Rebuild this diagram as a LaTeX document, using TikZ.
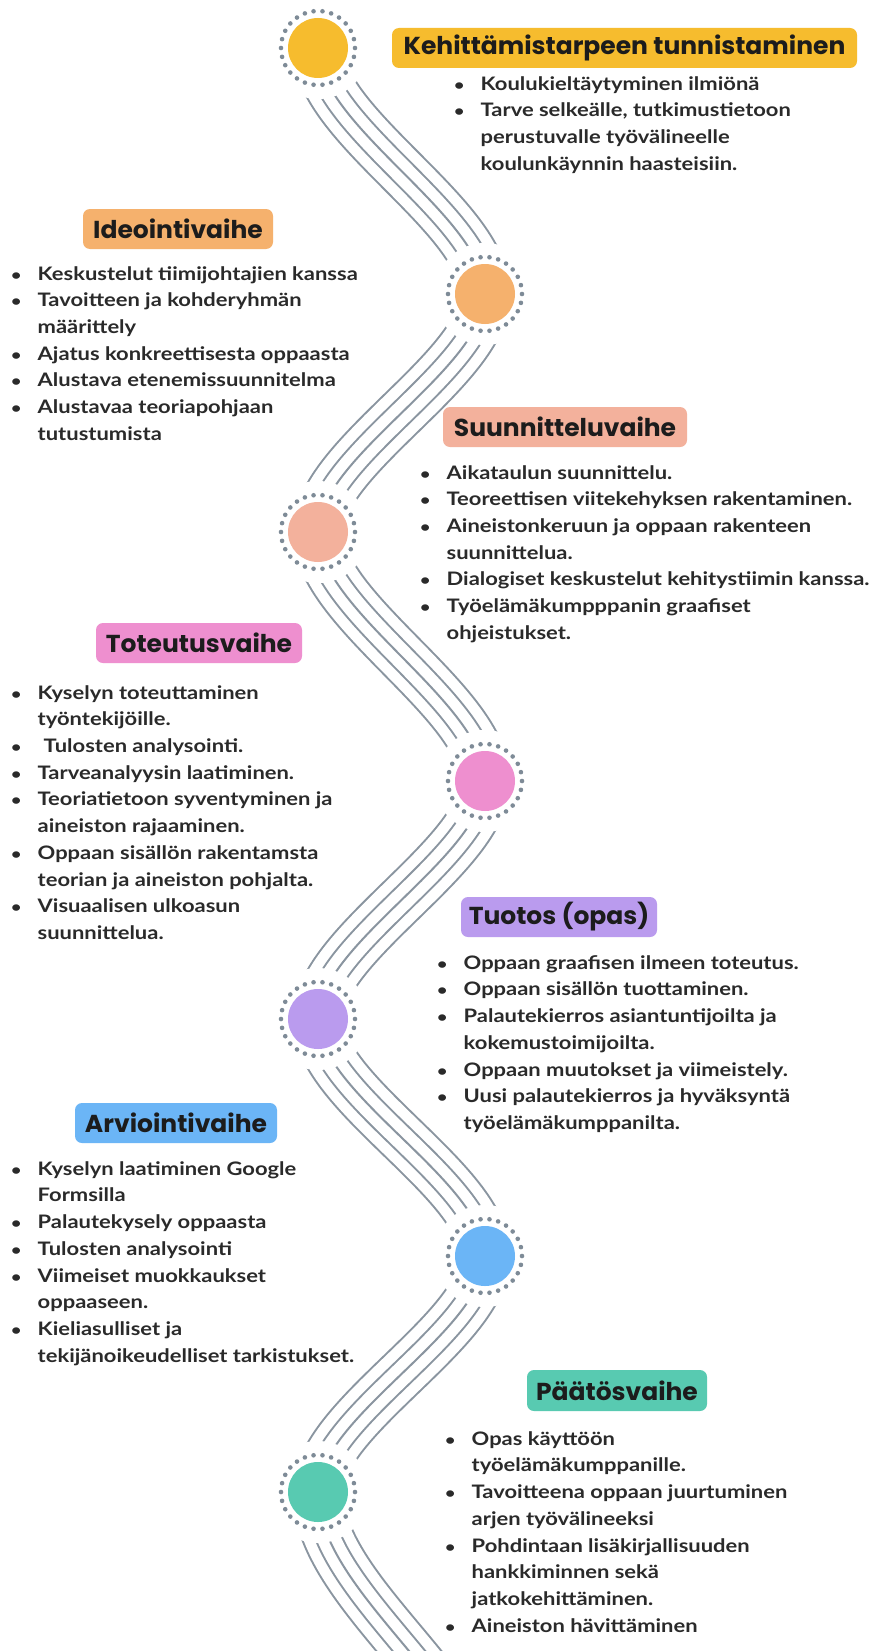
\documentclass[tikz,border=0pt]{standalone}
\usepackage{fontspec}
\setmainfont{Lato}[FakeStretch=1.18]
\newfontfamily\ttlfont{Poppins}[FakeStretch=1.02]
\usepackage{array}
\definecolor{cY}{HTML}{F6BC2E}
\definecolor{cO}{HTML}{F5B16D}
\definecolor{cS}{HTML}{F3B19C}
\definecolor{cP}{HTML}{EE8FCF}
\definecolor{cV}{HTML}{BA9BEE}
\definecolor{cB}{HTML}{6BB5F6}
\definecolor{cT}{HTML}{58CAB1}
\definecolor{strandc}{HTML}{8A95A0}
\definecolor{dotc}{HTML}{7E8B97}
\definecolor{ttlc}{HTML}{1C1C1C}
\definecolor{txtc}{HTML}{2A2A2A}
\newcommand{\bl}{\makebox[0pt]{\fontsize{15}{15}\selectfont\textbullet}}
\newenvironment{blist}{\fontsize{18.6}{26.7}\selectfont\bfseries\begin{tabular}{@{}l@{\hspace{21.5pt}}l@{}}}{\end{tabular}}
\tikzset{
  wave/.style={draw=strandc, line width=2pt, line join=round,
    preaction={draw=white, line width=23pt, line join=round,
      preaction={draw=strandc, line width=27pt, line join=round,
        preaction={draw=white, line width=48pt, line join=round,
          preaction={draw=strandc, line width=52pt, line join=round}}}}},
  ttlbox/.style={fill=#1, rounded corners=7pt, inner sep=0pt, text=ttlc,
    font=\ttlfont\fontsize{24.5}{28}\selectfont\bfseries},
  stage/.style={circle, fill=#1, minimum size=60pt, inner sep=0pt},
  txtblock/.style={anchor=north west, inner sep=0pt, text=txtc}
}
\begin{document}
\begin{tikzpicture}[x=1pt,y=-1pt]
\useasboundingbox (0,0) rectangle (872,1651);
\fill[white] (0,0) rectangle (872,1651);
% stage centres
\coordinate (p1) at (318,48);
\coordinate (p2) at (485,294);
\coordinate (p3) at (318,532);
\coordinate (p4) at (485,781);
\coordinate (p5) at (318,1019);
\coordinate (p6) at (485,1256);
\coordinate (p7) at (318,1492);
\coordinate (p8) at (485,1792);
% strands
\begin{scope}
\clip (0,0) rectangle (872,1651);
\draw[wave] (p1) .. controls +(0,78) and +(0,-78) .. (p2);
\draw[wave] (p2) .. controls +(0,75) and +(0,-75) .. (p3);
\draw[wave] (p3) .. controls +(0,79) and +(0,-79) .. (p4);
\draw[wave] (p4) .. controls +(0,75) and +(0,-75) .. (p5);
\draw[wave] (p5) .. controls +(0,75) and +(0,-75) .. (p6);
\draw[wave] (p6) .. controls +(0,75) and +(0,-75) .. (p7);
\draw[wave] (p7) .. controls +(0,100) and +(0,-100) .. (p8);
\end{scope}
% covers, rings and discs
\foreach \i/\c in {1/cY,2/cO,3/cS,4/cP,5/cV,6/cB,7/cT}{
  \fill[white] (p\i) circle (51pt);
  \foreach \a in {0,...,25}{
    \fill[dotc] (p\i) ++(\a*360/26:37pt) circle (2.3pt);
  }
  \node[stage=\c] (c\i) at (p\i) {};
}
% titles
\node[ttlbox=cY, minimum width=465pt, minimum height=40pt] (h1) at (624.5,48) {Kehittämistarpeen tunnistaminen};
\node[ttlbox=cO, minimum width=190pt, minimum height=40pt] (h2) at (178,229) {Ideointivaihe};
\node[ttlbox=cS, minimum width=244pt, minimum height=40pt] (h3) at (565,427) {Suunnitteluvaihe};
\node[ttlbox=cP, minimum width=206pt, minimum height=40pt] (h4) at (199,643) {Toteutusvaihe};
\node[ttlbox=cV, minimum width=196pt, minimum height=40pt] (h5) at (559,917) {Tuotos (opas)};
\node[ttlbox=cB, minimum width=202pt, minimum height=40pt] (h6) at (176,1123) {Arviointivaihe};
\node[ttlbox=cT, minimum width=180pt, minimum height=41pt] (h7) at (617,1390.5) {Päätösvaihe};
% bullet texts
\node[txtblock] (t1) at (459,71.3) {\begin{blist}
\bl & Koulukieltäytyminen ilmiönä\\
\bl & Tarve selkeälle, tutkimustietoon\\
 & perustuvalle työvälineelle\\
 & koulunkäynnin haasteisiin.
\end{blist}};
\node[txtblock] (t2) at (16,261.3) {\begin{blist}
\bl & Keskustelut tiimijohtajien kanssa\\
\bl & Tavoitteen ja kohderyhmän\\
 & määrittely\\
\bl & Ajatus konkreettisesta oppaasta\\
\bl & Alustava etenemissuunnitelma\\
\bl & Alustavaa teoriapohjaan\\
 & tutustumista
\end{blist}};
\node[txtblock] (t3) at (425,460.3) {\begin{blist}
\bl & Aikataulun suunnittelu.\\
\bl & Teoreettisen viitekehyksen rakentaminen.\\
\bl & Aineistonkeruun ja oppaan rakenteen\\
 & suunnittelua.\\
\bl & Dialogiset keskustelut kehitystiimin kanssa.\\
\bl & Työelämäkumpppanin graafiset\\
 & ohjeistukset.
\end{blist}};
\node[txtblock] (t4) at (16,680.3) {\begin{blist}
\bl & Kyselyn toteuttaminen\\
 & työntekijöille.\\
\bl & \hspace{6pt}Tulosten analysointi.\\
\bl & Tarveanalyysin laatiminen.\\
\bl & Teoriatietoon syventyminen ja\\
 & aineiston rajaaminen.\\
\bl & Oppaan sisällön rakentamsta\\
 & teorian ja aineiston pohjalta.\\
\bl & Visuaalisen ulkoasun\\
 & suunnittelua.
\end{blist}};
\node[txtblock] (t5) at (442,950.3) {\begin{blist}
\bl & Oppaan graafisen ilmeen toteutus.\\
\bl & Oppaan sisällön tuottaminen.\\
\bl & Palautekierros asiantuntijoilta ja\\
 & kokemustoimijoilta.\\
\bl & Oppaan muutokset ja viimeistely.\\
\bl & Uusi palautekierros ja hyväksyntä\\
 & työelämäkumppanilta.
\end{blist}};
\node[txtblock] (t6) at (16,1156.3) {\begin{blist}
\bl & Kyselyn laatiminen Google\\
 & Formsilla\\
\bl & Palautekysely oppaasta\\
\bl & Tulosten analysointi\\
\bl & Viimeiset muokkaukset\\
 & oppaaseen.\\
\bl & Kieliasulliset ja\\
 & tekijänoikeudelliset tarkistukset.
\end{blist}};
\node[txtblock] (t7) at (450,1426.3) {\begin{blist}
\bl & Opas käyttöön\\
 & työelämäkumppanille.\\
\bl & Tavoitteena oppaan juurtuminen\\
 & arjen työvälineeksi\\
\bl & Pohdintaan lisäkirjallisuuden\\
 & hankkiminnen sekä\\
 & jatkokehittäminen.\\
\bl & Aineiston hävittäminen
\end{blist}};
\end{tikzpicture}
\end{document}
